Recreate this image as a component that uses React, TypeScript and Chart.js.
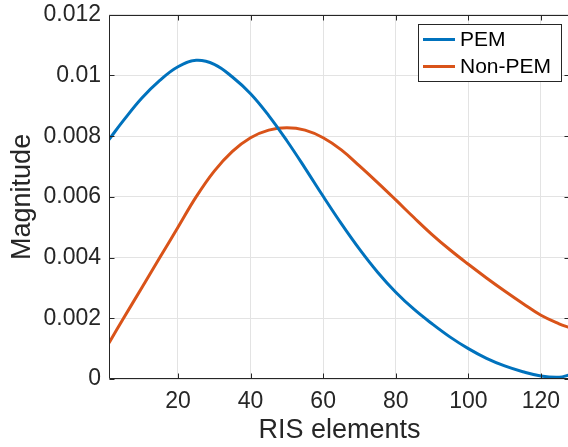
import React, { useEffect, useRef } from 'react';
import { Chart, registerables } from 'chart.js';

Chart.register(...registerables);

const FONT = '"Liberation Sans", Arial, Helvetica, sans-serif';
const TEXT = '#262626';

const xValues = [1, 5, 10, 15, 20, 25, 30, 35, 40, 45, 50, 55, 60, 65, 70, 75, 80, 85, 90, 95, 100, 105, 110, 115, 120, 125, 128];
const pemValues = [0.00789, 0.00852, 0.00925, 0.00984, 0.01029, 0.0105, 0.01037, 0.00995, 0.0094, 0.00868, 0.00785, 0.00695, 0.00602, 0.00512, 0.00428, 0.00352, 0.00286, 0.0023, 0.00182, 0.00138, 0.001, 0.00068, 0.00043, 0.00024, 0.0001, 0.00006, 0.00014];
const nonPemValues = [0.00119, 0.002, 0.003, 0.004, 0.005, 0.006, 0.00685, 0.0075, 0.00795, 0.0082, 0.00828, 0.0082, 0.00795, 0.00755, 0.00702, 0.00647, 0.0059, 0.00532, 0.00476, 0.00425, 0.00378, 0.00333, 0.0029, 0.00249, 0.0021, 0.00182, 0.00169];
const seriesNames = ['PEM', 'Non-PEM'];
const seriesColors = ['#0072BD', '#D95319'];
const xTicks = [20, 40, 60, 80, 100, 120];
const xTickLabels = ['20', '40', '60', '80', '100', '120'];
const yTicks = [0, 0.002, 0.004, 0.006, 0.008, 0.01, 0.012];
const yTickLabels = ['0', '0.002', '0.004', '0.006', '0.008', '0.01', '0.012'];

const SHIFT = 7;

const framePlugin = {
  id: 'matlabFrame',
  afterDraw(chart: any) {
    const { ctx, chartArea, scales } = chart;
    const left = Math.round(chartArea.left) + 0.5;
    const right = Math.round(chartArea.right) - 0.5;
    const top = Math.round(chartArea.top) + 0.5;
    const bottom = Math.round(chartArea.bottom) - 0.5;
    ctx.save();
    ctx.strokeStyle = TEXT;
    ctx.lineWidth = 1;
    ctx.beginPath();
    ctx.moveTo(left, top);
    ctx.lineTo(right, top);
    ctx.lineTo(right, bottom);
    ctx.lineTo(left, bottom);
    ctx.closePath();
    const tl = 5;
    xTicks.forEach((v) => {
      const px = Math.round(scales.x.getPixelForValue(v)) + 0.5;
      ctx.moveTo(px, bottom);
      ctx.lineTo(px, bottom - tl);
      ctx.moveTo(px, top);
      ctx.lineTo(px, top + tl);
    });
    yTicks.forEach((v) => {
      const py = Math.round(scales.y.getPixelForValue(v)) + 0.5;
      ctx.moveTo(left, py);
      ctx.lineTo(left + tl, py);
      ctx.moveTo(right, py);
      ctx.lineTo(right - tl, py);
    });
    ctx.stroke();

    // legend
    const bx = 418.5, by = 24.5 + SHIFT, bw = 143, bh = 57;
    ctx.fillStyle = '#ffffff';
    ctx.fillRect(bx, by, bw, bh);
    ctx.strokeStyle = TEXT;
    ctx.lineWidth = 1;
    ctx.strokeRect(bx, by, bw, bh);
    const rows = [39.5 + SHIFT, 66.5 + SHIFT];
    chart.data.datasets.forEach((ds: any, i: number) => {
      const yy = rows[i];
      ctx.strokeStyle = ds.borderColor;
      ctx.lineWidth = 3;
      ctx.beginPath();
      ctx.moveTo(423, yy);
      ctx.lineTo(455, yy);
      ctx.stroke();
      ctx.fillStyle = '#000000';
      ctx.font = `21px ${FONT}`;
      ctx.textBaseline = 'middle';
      ctx.textAlign = 'left';
      ctx.fillText(ds.label, 460, yy + 1);
    });
    ctx.restore();
  },
};

export default function App() {
  const ref = useRef<HTMLCanvasElement | null>(null);
  useEffect(() => {
    if (!ref.current) return;
    const chart = new Chart(ref.current, {
      type: 'line',
      data: {
        datasets: [pemValues, nonPemValues].map((vals, i) => ({
          label: seriesNames[i],
          data: xValues.map((x, j) => ({ x, y: vals[j] })),
          borderColor: seriesColors[i],
          backgroundColor: seriesColors[i],
          borderWidth: 3,
          pointRadius: 0,
          tension: 0.4,
          fill: false,
        })),
      },
      options: {
        responsive: false,
        animation: false,
        layout: { padding: { top: 15, right: 0, left: 0, bottom: 0 } },
        plugins: { legend: { display: false }, tooltip: { enabled: false } },
        scales: {
          x: {
            type: 'linear',
            min: 1,
            max: 128,
            afterBuildTicks: (s: any) => {
              s.ticks = xTicks.map((v) => ({ value: v }));
            },
            afterFit: (s: any) => {
              s.height = 68;
            },
            grid: { color: '#e3e3e3', drawTicks: false },
            border: { display: false },
            ticks: {
              padding: 9,
              color: TEXT,
              font: { family: FONT, size: 23 },
              maxRotation: 0,
              callback: (v: any) => {
                const k = xTicks.indexOf(Number(v));
                return k >= 0 ? xTickLabels[k] : '';
              },
            },
            title: {
              display: true,
              text: 'RIS elements',
              color: TEXT,
              font: { family: FONT, size: 27 },
              padding: { top: 0, bottom: 0 },
            },
          },
          y: {
            type: 'linear',
            min: 0,
            max: 0.012,
            afterBuildTicks: (s: any) => {
              s.ticks = yTicks.map((v) => ({ value: v }));
            },
            afterFit: (s: any) => {
              s.width = 109;
            },
            grid: { color: '#e3e3e3', drawTicks: false },
            border: { display: false },
            ticks: {
              padding: 8,
              color: TEXT,
              font: { family: FONT, size: 23 },
              callback: (v: any) => {
                const k = yTicks.findIndex((t) => Math.abs(t - Number(v)) < 1e-9);
                return k >= 0 ? yTickLabels[k] : '';
              },
            },
            title: {
              display: true,
              text: 'Magnitude',
              color: TEXT,
              font: { family: FONT, size: 27 },
              padding: { top: 6, bottom: 0 },
            },
          },
        },
      },
      plugins: [framePlugin],
    });
    return () => chart.destroy();
  }, []);
  return (
    <div style={{ position: 'absolute', left: 0, top: 0, width: 568, height: 447, overflow: 'hidden', background: '#fff' }}>
      <canvas
        ref={ref}
        width={570}
        height={447 + SHIFT}
        style={{ position: 'absolute', left: 0, top: -SHIFT, width: 570, height: 447 + SHIFT, display: 'block' }}
      />
    </div>
  );
}
